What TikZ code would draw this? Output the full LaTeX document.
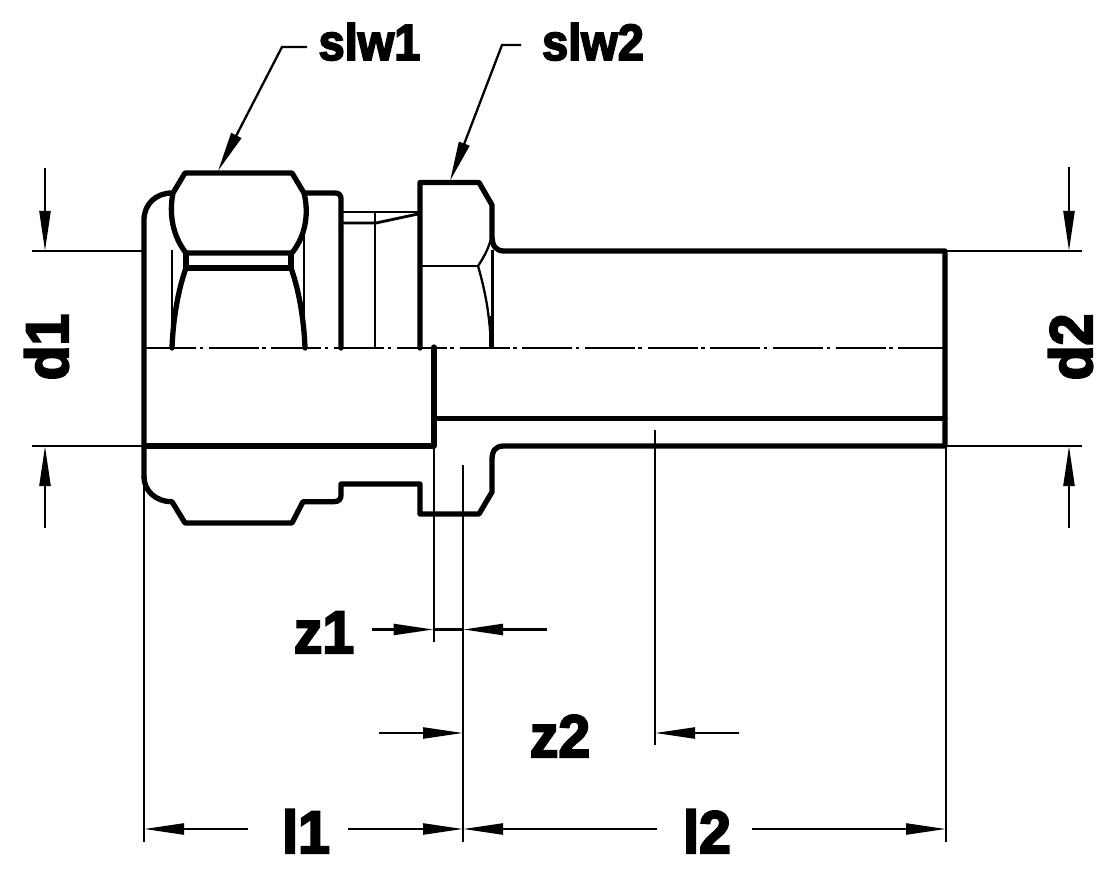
\documentclass[tikz,border=0pt]{standalone}
\usepackage{fontspec}
\setmainfont[FakeBold=3.5,FakeStretch=0.95]{Liberation Sans Bold}
\newfontfamily\slwfont[FakeBold=3.5,FakeStretch=0.92]{Liberation Sans Bold}
\usetikzlibrary{arrows.meta}
\tikzset{
  x=1pt,y=-1pt,
  thickline/.style={line width=5.3pt,line join=round,line cap=round},
  midline/.style={line width=2.8pt,line join=round},
  thinline/.style={line width=2.3pt},
  centerline/.style={line width=2.2pt,dash pattern=on 50pt off 3.5pt on 3.5pt off 5.7pt},
  dimarrow/.style={line width=2.3pt,-{Triangle[length=40pt,width=11pt]}},
  label/.style={inner sep=0pt,font=\fontsize{60}{60}\selectfont,text=black,anchor=base},
  smalllabel/.style={label,font=\slwfont\fontsize{51}{51}\selectfont},
}
\begin{document}
\begin{tikzpicture}
\useasboundingbox (0,0) rectangle (1114,874);
\fill[white] (0,0) rectangle (1114,874);
% named points
\coordinate (topL) at (32,251); \coordinate (botL) at (32,446);
\coordinate (wallT) at (144,251); \coordinate (wallB) at (144,446);
\coordinate (endT) at (945,251); \coordinate (endB) at (945,446);
\coordinate (topR) at (1082,251); \coordinate (botR) at (1082,446);
% centre line
\draw[centerline] (146,348) -- (945,348);
% thin outlines
\draw[thinline] (172,250) -- (172,348);
\draw[thinline] (304,235) -- (304,348);
\draw[thinline] (375,212) -- (375,348);
\draw[thinline] (420,266) -- (478,266);
\draw[thinline] (492,235) .. controls (489,248) and (484,257) .. (478,266);
\draw[thinline] (478,266) .. controls (485,290) and (490,315) .. (491,348);
\draw[thinline] (492.5,250) -- (492.5,348);
\draw[midline] (343,212) -- (418,212);
\draw[midline] (343,223) -- (376,223) -- (418,214);
% body
\draw[thickline] (144,477) -- (144,220) .. controls (144,204) and (156,193) .. (172,193);
\draw[thickline] (144,477) .. controls (144,490) and (155,501.7) .. (172,501.7) -- (185,523) -- (292,523) -- (303,501.7) -- (334,501.7) .. controls (339,501.7) and (341,499) .. (341,495) -- (341,484) -- (420,484) -- (420,514) -- (479,514) -- (492,492) -- (492,460) .. controls (492,451) and (495,446) .. (504,446) -- (945,446) -- (945,251) -- (504,251) .. controls (496,251) and (492,246) .. (492,236) -- (492,205) -- (479,182.5) -- (420,182.5) -- (420,348);
% nut 1
\draw[thickline] (185,173) -- (292,173) -- (304,193) .. controls (309,213) and (306,235) .. (292,253) -- (186,253) .. controls (172,235) and (169,213) .. (173,193) -- cycle;
\draw[thickline] (186,253) -- (186,268) -- (291,268) -- (291,253);
\draw[thickline] (186,268) .. controls (178,290) and (173,320) .. (172,348);
\draw[thickline] (291,268) .. controls (299,290) and (304,320) .. (305,348);
% collar
\draw[thickline] (304,193) -- (335,193) .. controls (339,193) and (341,195) .. (341,199) -- (341,348);
% bore
\draw[thickline] (144,446) -- (434,446);
\draw[thickline] (434,347) -- (434,446);
\draw[thickline] (434,418.7) -- (945,418.7);
\draw[line width=3.6pt] (491,348) -- (491,316);
% witness lines
\draw[thinline] (topL) -- (wallT);
\draw[thinline] (botL) -- (wallB);
\draw[thinline] (endT) -- (topR);
\draw[thinline] (endB) -- (botR);
\draw[thinline] (144,477) -- (144,842);
\draw[thinline] (946,446) -- (946,842);
\draw[thinline] (463,465) -- (463,842);
\draw[line width=2pt] (433.5,446) -- (433.5,642);
\draw[thinline] (655,430) -- (655,745);
% vertical dims
\draw[dimarrow] (45,168) -- (45,251);
\draw[dimarrow] (45,528) -- (45,446);
\draw[dimarrow] (1069,167) -- (1069,251);
\draw[dimarrow] (1069,528) -- (1069,446);
% horizontal dims
\draw[thinline] (433.5,629.5) -- (463,629.5);
\draw[dimarrow] (372,629.5) -- (433.5,629.5);
\draw[dimarrow] (547,629.5) -- (463,629.5);
\draw[dimarrow] (379,733) -- (463,733);
\draw[dimarrow] (739,733) -- (655,733);
\draw[dimarrow] (348,829) -- (463,829);
\draw[dimarrow] (248,829) -- (144,829);
\draw[dimarrow] (657,829) -- (463,829);
\draw[dimarrow] (752,829) -- (946,829);
% leaders
\draw[dimarrow] (307,47) -- (282,47) -- (218,171);
\draw[dimarrow] (521,45) -- (502,45) -- (450,181);
% labels
\node[smalllabel] (slwa) at (369.5,60) {slw1};
\node[smalllabel] (slwb) at (593,60) {slw2};
\node[label] (za) at (324,653) {z1};
\node[label] (zb) at (560,757) {z2};
\node[label] (la) at (306,853) {l1};
\node[label] (lb) at (707,853) {l2};
\node[label,rotate=90] (da) at (68,347) {d1};
\node[label,rotate=90] (db) at (1092,347) {d2};
\end{tikzpicture}
\end{document}
